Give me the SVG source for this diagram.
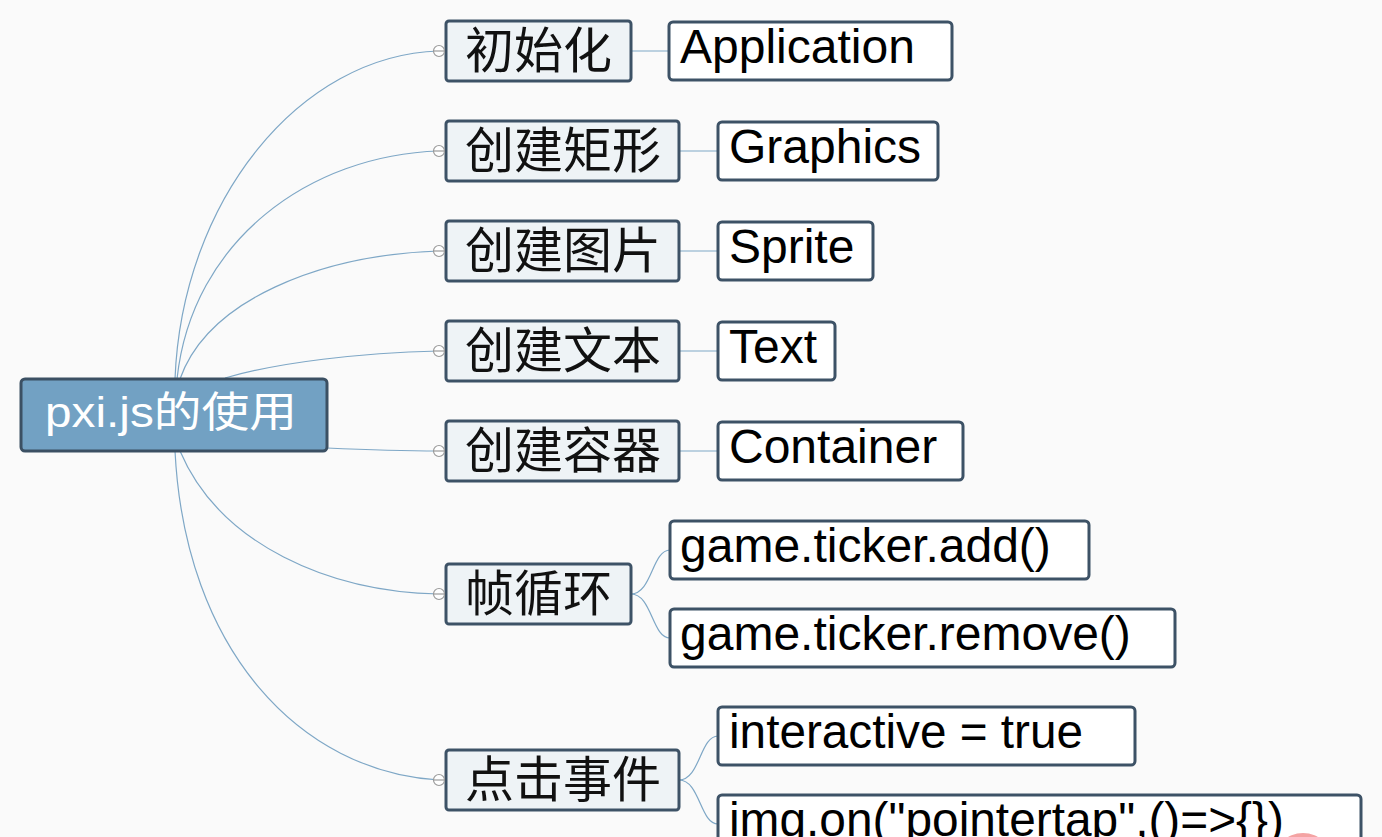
<svg xmlns="http://www.w3.org/2000/svg" width="1382" height="837" viewBox="0 0 1382 837">
<style>
.bg{fill:#fafafa}
.root rect{fill:#72a1c3;stroke:#3b5063;stroke-width:3}
.root text{fill:#ffffff;font-family:"Liberation Sans","Noto Sans CJK SC",sans-serif;font-size:42px}
.sub rect{fill:#eef3f6;stroke:#3d5266;stroke-width:3}
.sub text{fill:#111;font-family:"Noto Sans CJK SC",sans-serif;font-size:49px}
.leaf rect{fill:#ffffff;stroke:#3d5266;stroke-width:3}
.leaf text{fill:#000;font-family:"Liberation Sans","Noto Sans CJK SC",sans-serif;font-size:48px}
#connectors path{fill:none;stroke:#7ea7c6;stroke-width:1.2}
.tog circle{fill:#ffffff;stroke:#9a9a9a;stroke-width:1.2}
.tog line{stroke:#9a9a9a;stroke-width:1.2}
</style>
<rect class="bg" x="0" y="0" width="1382" height="837"/>
<g id="connectors">
<path d="M175,379 C182,200 300,55 439,51"/>
<path d="M177,379 C192,240 310,155 439,151"/>
<path d="M180,379 C208,300 320,255 439,251"/>
<path d="M225,378 C280,362 360,353 439,351"/>
<path d="M327,448 C370,450 400,451 439,451"/>
<path d="M180,451 C220,545 330,592 439,594"/>
<path d="M175,451 C185,650 300,772 439,780"/>
<path d="M631,51 L669,51"/>
<path d="M679,151 L718,151"/>
<path d="M679,251 L718,251"/>
<path d="M679,351 L718,351"/>
<path d="M679,451 L718,451"/>
<path d="M631,594 C652,594 652,550 670,550"/>
<path d="M631,594 C652,594 652,638 670,638"/>
<path d="M679,780 C700,780 700,736 718,736"/>
<path d="M679,780 C700,780 700,824 718,824"/>
</g>
<g id="root" class="root">
<rect x="21" y="379" width="306" height="72" rx="4"/>
<text x="45" y="427" textLength="252" lengthAdjust="spacingAndGlyphs">pxi.js的使用</text>
</g>
<g id="n-init" class="sub"><rect x="446" y="21" width="185" height="60" rx="3"/><text x="465" y="68">初始化</text></g>
<g id="n-rect" class="sub"><rect x="446" y="121" width="233" height="60" rx="3"/><text x="465" y="168">创建矩形</text></g>
<g id="n-img" class="sub"><rect x="446" y="221" width="233" height="60" rx="3"/><text x="465" y="268">创建图片</text></g>
<g id="n-text" class="sub"><rect x="446" y="321" width="233" height="60" rx="3"/><text x="465" y="368">创建文本</text></g>
<g id="n-cont" class="sub"><rect x="446" y="421" width="233" height="60" rx="3"/><text x="465" y="468">创建容器</text></g>
<g id="n-loop" class="sub"><rect x="446" y="564" width="185" height="60" rx="3"/><text x="465" y="611">帧循环</text></g>
<g id="n-click" class="sub"><rect x="446" y="750" width="233" height="60" rx="3"/><text x="465" y="797">点击事件</text></g>
<g id="toggles" class="tog">
<circle cx="439" cy="51" r="5.5"/><line x1="434" y1="51" x2="444" y2="51"/>
<circle cx="439" cy="151" r="5.5"/><line x1="434" y1="151" x2="444" y2="151"/>
<circle cx="439" cy="251" r="5.5"/><line x1="434" y1="251" x2="444" y2="251"/>
<circle cx="439" cy="351" r="5.5"/><line x1="434" y1="351" x2="444" y2="351"/>
<circle cx="439" cy="451" r="5.5"/><line x1="434" y1="451" x2="444" y2="451"/>
<circle cx="439" cy="594" r="5.5"/><line x1="434" y1="594" x2="444" y2="594"/>
<circle cx="439" cy="780" r="5.5"/><line x1="434" y1="780" x2="444" y2="780"/>
</g>
<g id="l-app" class="leaf"><rect x="669" y="22" width="283" height="58" rx="4"/><text x="680" y="63">Application</text></g>
<g id="l-gfx" class="leaf"><rect x="718" y="122" width="220" height="58" rx="4"/><text x="729" y="163">Graphics</text></g>
<g id="l-sprite" class="leaf"><rect x="718" y="222" width="155" height="58" rx="4"/><text x="729" y="263">Sprite</text></g>
<g id="l-text" class="leaf"><rect x="718" y="322" width="117" height="58" rx="4"/><text x="729" y="363">Text</text></g>
<g id="l-cont" class="leaf"><rect x="718" y="422" width="245" height="58" rx="4"/><text x="729" y="463">Container</text></g>
<g id="l-add" class="leaf"><rect x="670" y="521" width="419" height="58" rx="4"/><text x="680" y="562">game.ticker.add()</text></g>
<g id="l-remove" class="leaf"><rect x="670" y="609" width="505" height="58" rx="4"/><text x="680" y="650">game.ticker.remove()</text></g>
<g id="l-inter" class="leaf"><rect x="718" y="707" width="417" height="58" rx="4"/><text x="729" y="748" textLength="354" lengthAdjust="spacingAndGlyphs">interactive = true</text></g>
<g id="l-on" class="leaf"><rect x="718" y="795" width="643" height="70" rx="4"/><text x="729" y="836" textLength="555" lengthAdjust="spacingAndGlyphs">img.on("pointertap",()=&gt;{})</text></g>
<circle cx="1303" cy="863" r="30" fill="#f4a3a3"/>
</svg>
